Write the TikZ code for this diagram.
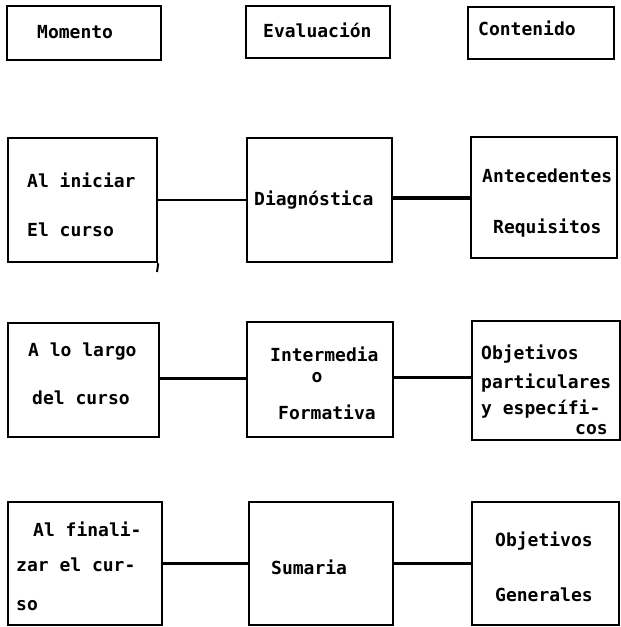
\documentclass[tikz,border=0pt]{standalone}
\usepackage{fontspec}
\setmonofont{DejaVu Sans Mono}
\begin{document}
\begin{tikzpicture}[x=1bp,y=-1bp,
  box/.style={draw, line width=2.5bp, inner sep=0pt},
  conn/.style={line width=2.2bp},
  connthick/.style={line width=4bp},
  txt/.style={anchor=base west, inner sep=0pt, font=\ttfamily\bfseries\fontsize{18bp}{20bp}\selectfont},
  txtc/.style={anchor=base, inner sep=0pt, font=\ttfamily\bfseries\fontsize{18bp}{20bp}\selectfont}]
\useasboundingbox (0,0) rectangle (621,627);
% header row
\node[box, minimum width=154bp, minimum height=54bp] (m0) at (84,33) {};
\node[box, minimum width=144bp, minimum height=52bp] (e0) at (318,32) {};
\node[box, minimum width=146bp, minimum height=52bp] (c0) at (541,33) {};
% row 1
\node[box, minimum width=149bp, minimum height=124bp] (m1) at (82.5,200) {};
\node[box, minimum width=145bp, minimum height=124bp] (e1) at (319.5,200) {};
\node[box, minimum width=146bp, minimum height=121bp] (c1) at (544,197.5) {};
% row 2
\node[box, minimum width=151bp, minimum height=114bp] (m2) at (83.5,380) {};
\node[box, minimum width=146bp, minimum height=115bp] (e2) at (320,379.5) {};
\node[box, minimum width=148bp, minimum height=119bp] (c2) at (546,380.5) {};
% row 3
\node[box, minimum width=154bp, minimum height=123bp] (m3) at (85,563.5) {};
\node[box, minimum width=144bp, minimum height=123bp] (e3) at (321,563.5) {};
\node[box, minimum width=147bp, minimum height=123bp] (c3) at (545.5,563.5) {};
% tick below first box of row 1
\coordinate (tk) at (157,272);
\draw[line width=2bp] (m1.south east) -- (tk);
% connectors
\draw[conn] (m1.east |- 0,200) -- (e1.west |- 0,200);
\draw[connthick] (e1.east |- 0,198) -- (c1.west |- 0,198);
\draw[line width=3bp] (m2.east |- 0,378) -- (e2.west |- 0,378);
\draw[line width=3bp] (e2.east |- 0,377) -- (c2.west |- 0,377);
\draw[line width=3bp] (m3.east |- 0,563) -- (e3.west |- 0,563);
\draw[line width=3bp] (e3.east |- 0,563) -- (c3.west |- 0,563);
% texts
\node[txt] (t1) at (37,39) {Momento};
\node[txt] (t2) at (263,38) {Evaluación};
\node[txt] (t3) at (478,36) {Contenido};
\node[txt] (t4) at (27,188) {Al iniciar};
\node[txt] (t5) at (27,236) {El curso};
\node[txt] (t6) at (254,205) {Diagnóstica};
\node[txt] (t7) at (482,183) {Antecedentes};
\node[txt] (t8) at (493,233) {Requisitos};
\node[txt] (t9) at (28,356) {A lo largo};
\node[txt] (t10) at (32,404) {del curso};
\node[txt] (t11) at (270,361) {Intermedia};
\node[txtc] (t12) at (317,382) {o};
\node[txt] (t13) at (278,419) {Formativa};
\node[txt] (t14) at (481,359) {Objetivos};
\node[txt] (t15) at (481,388) {particulares};
\node[txt] (t16) at (481,414) {y específi-};
\node[txt] (t17) at (575,434) {cos};
\node[txt] (t18) at (33,536) {Al finali-};
\node[txt] (t19) at (16,571) {zar el cur-};
\node[txt] (t20) at (16,610) {so};
\node[txt] (t21) at (271,574) {Sumaria};
\node[txt] (t22) at (495,546) {Objetivos};
\node[txt] (t23) at (495,601) {Generales};
\end{tikzpicture}
\end{document}
